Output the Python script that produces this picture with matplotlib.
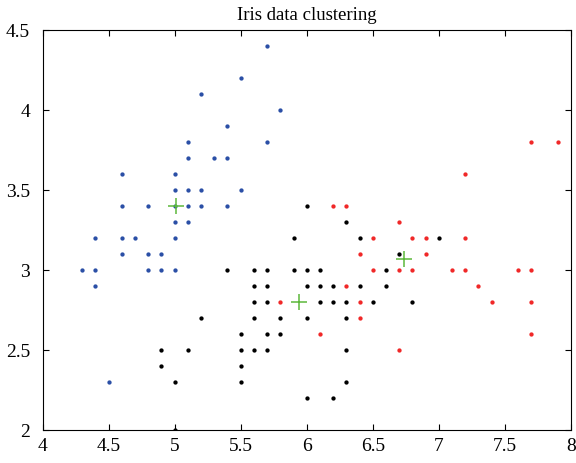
import matplotlib
matplotlib.use("Agg")
import matplotlib.pyplot as plt

# cluster 1 (blue)
blue_x = [4.3, 4.4, 4.4, 4.4, 4.5, 4.6, 4.6, 4.6, 4.6, 4.7, 4.8, 4.8, 4.8, 4.9, 4.9,
          5.0, 5.0, 5.0, 5.0, 5.0, 5.0, 5.1, 5.1, 5.1, 5.1, 5.1, 5.2, 5.2, 5.2, 5.3,
          5.4, 5.4, 5.4, 5.5, 5.5, 5.7, 5.7, 5.8]
blue_y = [3.0, 2.9, 3.0, 3.2, 2.3, 3.1, 3.2, 3.4, 3.6, 3.2, 3.0, 3.1, 3.4, 3.0, 3.1,
          3.0, 3.2, 3.3, 3.4, 3.5, 3.6, 3.3, 3.4, 3.5, 3.7, 3.8, 3.4, 3.5, 4.1, 3.7,
          3.4, 3.7, 3.9, 3.5, 4.2, 3.8, 4.4, 4.0]

# cluster 2 (black)
black_x = [4.9, 4.9, 5.0, 5.0, 5.1, 5.2, 5.4,
           5.5, 5.5, 5.5, 5.5,
           5.6, 5.6, 5.6, 5.6, 5.6,
           5.7, 5.7, 5.7, 5.7, 5.7,
           5.8, 5.8, 5.9, 5.9,
           6.0, 6.0, 6.0, 6.0, 6.0,
           6.1, 6.1, 6.1,
           6.2, 6.2, 6.2,
           6.3, 6.3, 6.3, 6.3, 6.3,
           6.4, 6.4, 6.5, 6.6, 6.6, 6.7, 6.8, 7.0]
black_y = [2.4, 2.5, 2.0, 2.3, 2.5, 2.7, 3.0,
           2.3, 2.4, 2.5, 2.6,
           2.5, 2.7, 2.8, 2.9, 3.0,
           2.5, 2.6, 2.8, 2.9, 3.0,
           2.6, 2.7, 3.0, 3.2,
           2.2, 2.7, 2.9, 3.0, 3.4,
           2.8, 2.9, 3.0,
           2.2, 2.8, 2.9,
           2.3, 2.5, 2.7, 2.8, 3.3,
           2.9, 3.2, 2.8, 2.9, 3.0, 3.1, 2.8, 3.2]

# cluster 3 (red)
red_x = [5.8, 6.1, 6.2, 6.3, 6.3, 6.4, 6.4, 6.4, 6.5, 6.5, 6.7, 6.7, 6.7, 6.8, 6.8,
         6.9, 6.9, 7.1, 7.2, 7.2, 7.2, 7.3, 7.4, 7.6, 7.7, 7.7, 7.7, 7.7, 7.9]
red_y = [2.8, 2.6, 3.4, 2.9, 3.4, 2.7, 2.8, 3.1, 3.0, 3.2, 2.5, 3.0, 3.3, 3.0, 3.2,
         3.1, 3.2, 3.0, 3.0, 3.2, 3.6, 2.9, 2.8, 3.0, 2.6, 2.8, 3.0, 3.8, 3.8]

# cluster centres
cx = [5.01, 5.94, 6.74]
cy = [3.40, 2.80, 3.07]

xticks = [4, 4.5, 5, 5.5, 6, 6.5, 7, 7.5, 8]
yticks = [2, 2.5, 3, 3.5, 4, 4.5]

plt.rcParams['font.family'] = ['Liberation Serif', 'DejaVu Serif']
plt.rcParams['font.size'] = 14

fig = plt.figure(figsize=(5.76, 4.63), dpi=100)
ax = fig.add_axes([0.074, 0.071, 0.917, 0.864])

ax.plot(blue_x, blue_y, 'o', color='#2b4fa6', markersize=3.1, markeredgewidth=0)
ax.plot(black_x, black_y, 'o', color='black', markersize=3.1, markeredgewidth=0)
ax.plot(red_x, red_y, 'o', color='#f02828', markersize=3.1, markeredgewidth=0)
ax.plot(cx, cy, '+', color='#5cb83a', markersize=12, markeredgewidth=1.1)

ax.set_xlim(4, 8)
ax.set_ylim(2, 4.5)
ax.set_xticks(xticks)
ax.set_yticks(yticks)
ax.set_xticklabels(['%g' % v for v in xticks])
ax.set_yticklabels(['%g' % v for v in yticks])
ax.tick_params(direction='in', top=True, right=True, length=4, width=0.8)
ax.tick_params(axis='x', pad=6)
ax.tick_params(axis='y', pad=9)
for s in ax.spines.values():
    s.set_linewidth(0.8)

ax.set_title('Iris data clustering', fontsize=13.5, pad=7)

fig.savefig('out.png', dpi=100)
